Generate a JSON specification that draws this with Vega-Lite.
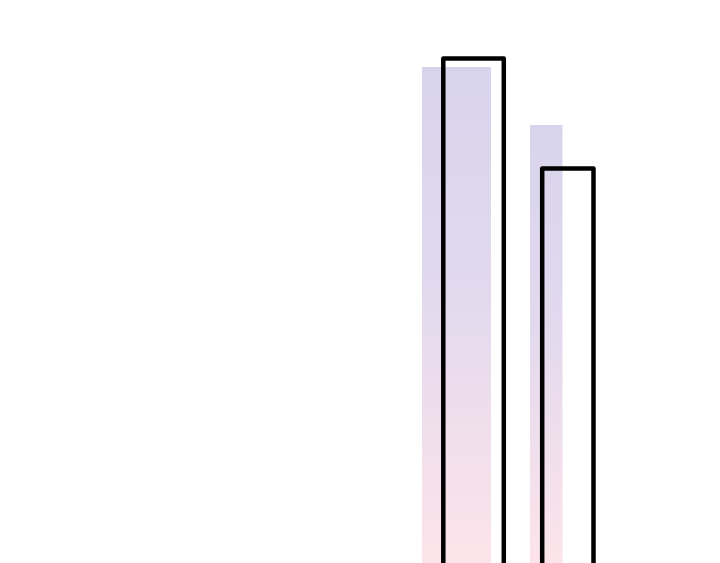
{
  "$schema": "https://vega.github.io/schema/vega-lite/v6.json",
  "autosize": {"type": "fit", "contains": "padding"},
  "width": 720,
  "height": 563,
  "padding": 0,
  "background": "white",
  "config": {"view": {"stroke": null}},
  "datasets": {
    "filled": [
      {"start": 422, "end": 491, "value": 496},
      {"start": 530, "end": 562.5, "value": 438}
    ],
    "outlined": [
      {"start": 443.3, "end": 503.8, "value": 504.5},
      {"start": 542.2, "end": 593.5, "value": 394.5}
    ]
  },
  "layer": [
    {
      "data": {"name": "filled"},
      "mark": {
        "type": "rect",
        "clip": true,
        "fill": {
          "gradient": "linear",
          "x1": 0, "y1": 0, "x2": 0, "y2": 1,
          "stops": [
            {"offset": 0, "color": "#d8d4ec"},
            {"offset": 0.45, "color": "#e2d9ee"},
            {"offset": 1, "color": "#fde4ea"}
          ]
        }
      },
      "encoding": {
        "x": {"field": "start", "type": "quantitative", "scale": {"domain": [0, 720]}, "axis": null},
        "x2": {"field": "end"},
        "y": {"field": "value", "type": "quantitative", "scale": {"domain": [0, 563]}, "axis": null},
        "y2": {"datum": 0}
      }
    },
    {
      "data": {"name": "outlined"},
      "mark": {
        "type": "rect",
        "clip": true,
        "fill": null,
        "stroke": "black",
        "strokeWidth": 4.5,
        "strokeJoin": "round"
      },
      "encoding": {
        "x": {"field": "start", "type": "quantitative", "scale": {"domain": [0, 720]}, "axis": null},
        "x2": {"field": "end"},
        "y": {"field": "value", "type": "quantitative", "scale": {"domain": [0, 563]}, "axis": null},
        "y2": {"datum": -10}
      }
    }
  ]
}
